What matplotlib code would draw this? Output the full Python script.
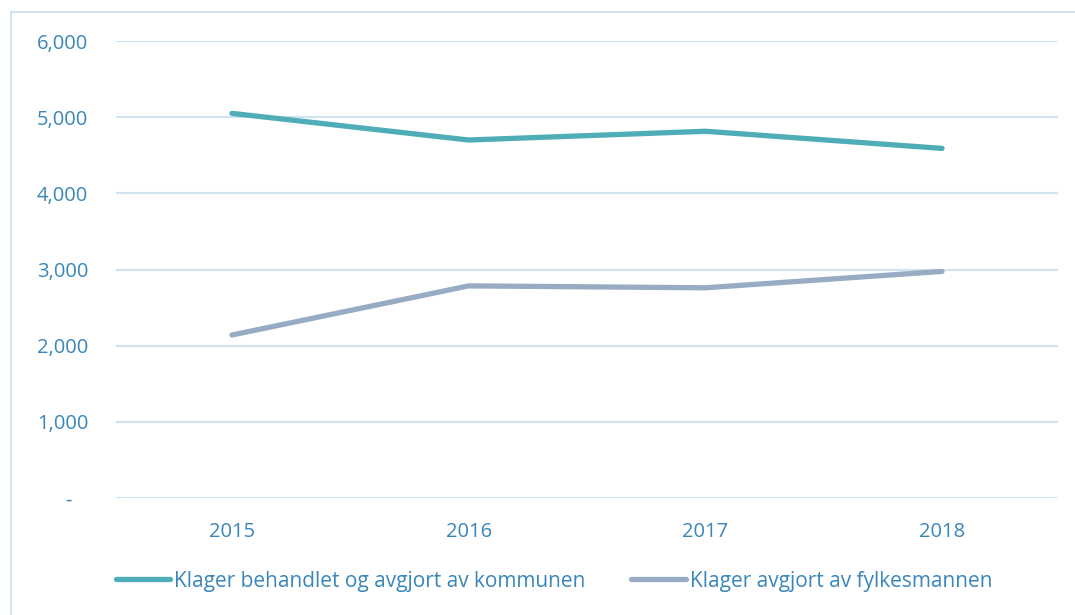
import matplotlib.pyplot as plt
from matplotlib.patches import Rectangle
from matplotlib.ticker import FuncFormatter

years = ["2015", "2016", "2017", "2018"]
kommunen = [5050, 4700, 4815, 4590]
fylkesmannen = [2140, 2785, 2760, 2975]
labels = ["Klager behandlet og avgjort av kommunen", "Klager avgjort av fylkesmannen"]

text_color = "#3A86B8"
grid_color = "#D0E3F0"

plt.rcParams["font.family"] = ["Open Sans", "DejaVu Sans"]

fig = plt.figure(figsize=(10.75, 6.15), dpi=100)
ax = fig.add_axes([116 / 1075, 1 - 498 / 615, 942 / 1075, 457 / 615])

x = range(len(years))
ax.plot(x, kommunen, color="#4EADB7", lw=3.8, solid_capstyle="round", label=labels[0])
ax.plot(x, fylkesmannen, color="#97ABC3", lw=3.8, solid_capstyle="round", label=labels[1])

ax.set_xlim(-0.49, 3.49)
ax.set_ylim(0, 6000)
ax.set_yticks(range(0, 7000, 1000))
ax.yaxis.set_major_formatter(FuncFormatter(lambda v, p: "-   " if v == 0 else f"{int(v):,}"))
ax.set_xticks(list(x))
ax.set_xticklabels(years)
ax.grid(axis="y", color=grid_color, lw=1.5)
ax.set_axisbelow(True)
for s in ax.spines.values():
    s.set_visible(False)
ax.tick_params(length=0, labelsize=14.5, labelcolor=text_color)
ax.tick_params(axis="y", pad=20)
ax.tick_params(axis="x", pad=17)

leg = fig.legend(loc="center", bbox_to_anchor=(554 / 1075, 1 - 581 / 615), ncol=2, frameon=False,
                 fontsize=15, handlelength=2.6, handletextpad=0.2, columnspacing=2.2)
for t in leg.get_texts():
    t.set_color(text_color)

fig.patches.append(Rectangle((11 / 1075, -0.1), 1.2, 1 - 12 / 615 + 0.1, transform=fig.transFigure,
                             fill=False, edgecolor="#CBE0EF", lw=1.3))

fig.savefig("out.png", dpi=100)
